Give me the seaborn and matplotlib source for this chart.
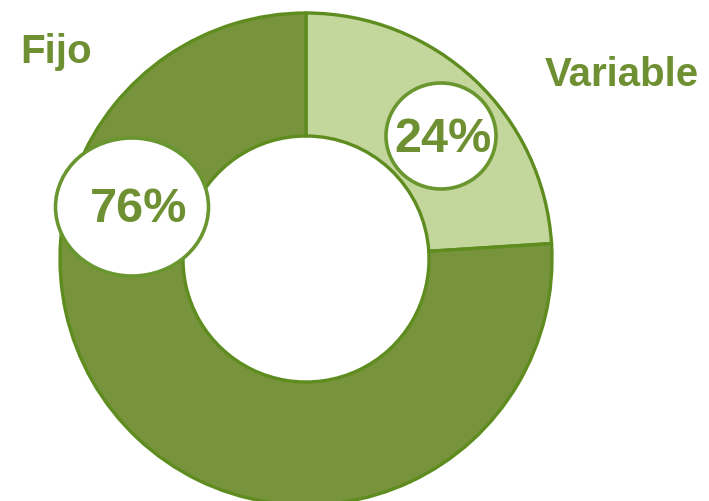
import matplotlib
matplotlib.use("Agg")
import matplotlib.pyplot as plt
from matplotlib.patches import Ellipse
import seaborn as sns

labels = ["Variable", "Fijo"]
shares = [24, 76]
pct_labels = ["24%", "76%"]

sns.set_theme(style="white")
plt.rcParams['font.family'] = ['Liberation Sans', 'DejaVu Sans']

slice_colors = ["#c3d69b", "#77933c"]
edge = "#5e8c1f"
text_col = "#6e9032"

W, H = 709, 502
fig = plt.figure(figsize=(W / 100, H / 100), dpi=100)
ax = fig.add_axes([0, 0, 1, 1])

cx, cy, r = 306, H - 260, 246
ax.pie(shares, colors=slice_colors, startangle=90, counterclock=False,
       center=(cx, cy), radius=r, frame=True,
       wedgeprops=dict(width=r * 0.5, edgecolor=edge, linewidth=2.4))
ax.set_xlim(0, W)
ax.set_ylim(0, H)
ax.set_aspect("equal")
ax.axis("off")

# bubbles with percentages: ellipse centre, size, text centre
bubbles = [((441, 137), 110, 106, (443, 139)), ((132, 208), 153, 138, (139, 210))]
for (pos, w, h, tpos), txt in zip(bubbles, pct_labels):
    bx, by = pos
    ax.add_patch(Ellipse((bx, H - by), w, h, facecolor="white",
                         edgecolor="#6a9630", linewidth=2.6, zorder=5))
    ax.text(tpos[0], H - tpos[1], txt, ha="center", va="center", fontsize=35,
            fontweight="bold", color=text_col, zorder=6)

# category labels
ax.text(56, H - 52, labels[1], ha="center", va="center", fontsize=29,
        fontweight="bold", color=text_col)
ax.text(622, H - 75, labels[0], ha="center", va="center", fontsize=29,
        fontweight="bold", color=text_col)

fig.savefig("out.png", dpi=100)
